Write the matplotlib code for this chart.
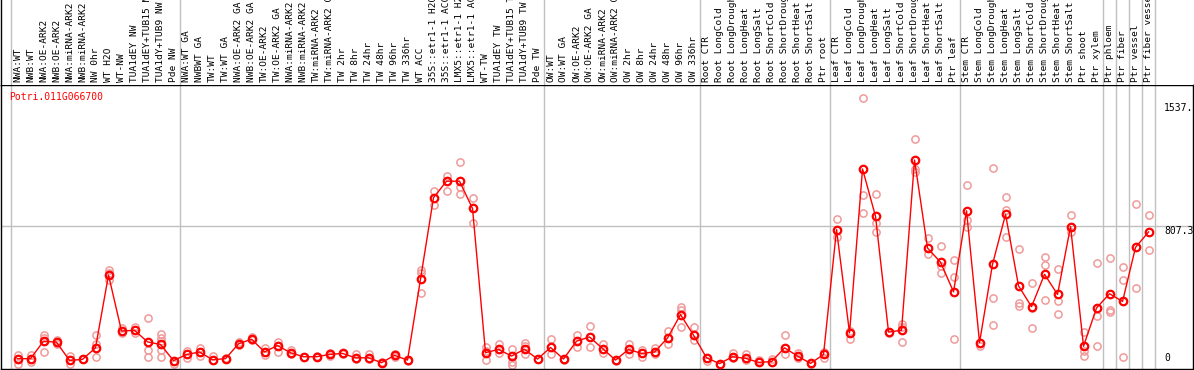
import numpy as np
from matplotlib import pyplot as plt

gene = 'Potri.011G066700'

samples = ['NWA:WT', 'NWB:WT', 'NWA:OE-ARK2', 'NWB:OE-ARK2', 'NWA:miRNA-ARK2',
           'NWB:miRNA-ARK2', 'NW 0hr', 'WT H2O', 'WT-NW', 'TUA1dEY NW',
           'TUA1dEY+TUB15 NW', 'TUA1dY+TUB9 NW', 'Pde NW',
           'NWA:WT GA', 'NWBWT GA', 'TW:WT', 'TW:WT GA', 'NWA:OE-ARK2 GA',
           'NWB:OE-ARK2 GA', 'TW:OE-ARK2', 'TW:OE-ARK2 GA', 'NWA:miRNA-ARK2 GA',
           'NWB:miRNA-ARK2 GA', 'TW:miRNA-ARK2', 'TW:miRNA-ARK2 GA', 'TW 2hr',
           'TW 8hr', 'TW 24hr', 'TW 48hr', 'TW 96hr', 'TW 336hr', 'WT ACC',
           '35S::etr1-1 H2O', '35S::etr1-1 ACC', 'LMX5::etr1-1 H2O',
           'LMX5::etr1-1 ACC', 'WT-TW', 'TUA1dEY TW', 'TUA1dEY+TUB15 TW',
           'TUA1dY+TUB9 TW', 'Pde TW',
           'OW:WT', 'OW:WT GA', 'OW:OE-ARK2', 'OW:OE-ARK2 GA', 'OW:miRNA-ARK2',
           'OW:miRNA-ARK2 GA', 'OW 2hr', 'OW 8hr', 'OW 24hr', 'OW 48hr',
           'OW 96hr', 'OW 336hr',
           'Root CTR', 'Root LongCold', 'Root LongDrought', 'Root LongHeat',
           'Root LongSalt', 'Root ShortCold', 'Root ShortDrought',
           'Root ShortHeat', 'Root ShortSalt', 'Ptr root',
           'Leaf CTR', 'Leaf LongCold', 'Leaf LongDrought', 'Leaf LongHeat',
           'Leaf LongSalt', 'Leaf ShortCold', 'Leaf ShortDrought',
           'Leaf ShortHeat', 'Leaf ShortSalt', 'Ptr leaf',
           'Stem CTR', 'Stem LongCold', 'Stem LongDrought', 'Stem LongHeat',
           'Stem LongSalt', 'Stem ShortCold', 'Stem ShortDrought',
           'Stem ShortHeat', 'Stem ShortSalt', 'Ptr shoot', 'Ptr xylem',
           'Ptr phloem', 'Ptr fiber', 'Ptr vessel', 'Ptr fiber vessel']

means = [51, 51, 151, 145, 41, 47, 113, 529, 209, 213, 147, 132, 40,
         75, 89, 45, 51, 136, 162, 90, 126, 85, 62, 62, 75, 81, 56, 56, 28,
         70, 43, 506, 971, 1065, 1065, 909, 85, 104, 66, 105, 49, 115,
         49, 151, 175, 109, 43, 104, 81, 89, 169, 303, 185, 56,
         23, 62, 53, 30, 34, 113, 66, 24, 75, 789,
         198, 1135, 864, 203, 213, 1186, 683, 602, 433, 896,
         143, 591, 875, 467, 348, 533, 418, 806, 122, 341, 422,
         378, 687, 775]

replicates = [[70, 51, 20], [70, 51, 32], [185, 170, 151, 89], [155, 145, 135],
              [65, 41, 18], [47, 50], [185, 137, 113, 62], [557, 540, 500],
              [225, 209, 200], [230, 213, 195], [284, 147, 100, 62],
              [190, 170, 150, 132, 100, 62], [40, 20],
              [95, 75, 55], [110, 89, 65], [65, 45], [55, 48], [145, 136, 130],
              [175, 162, 155], [110, 90, 70], [148, 126, 90], [100, 85, 75],
              [62, 58], [64, 60], [85, 75, 66], [81, 78], [75, 56, 50],
              [75, 56, 50], [30, 26], [80, 70, 60], [45, 40], [555, 540, 429],
              [1009, 971, 928], [1094, 1065, 1011], [1174, 1031, 992],
              [969, 909, 824], [115, 95, 45], [135, 104, 85],
              [105, 66, 30, 15], [140, 125, 105, 80], [49], [162, 115, 80],
              [49, 45], [185, 151, 120], [235, 175, 120], [135, 109, 85],
              [45, 40], [135, 104, 80], [100, 81, 60], [110, 89, 75],
              [207, 169, 135], [348, 330, 231], [230, 185, 160], [56, 35],
              [23, 20], [85, 62, 55], [75, 53, 45], [45, 30], [50, 34],
              [185, 113, 80], [85, 66, 55], [24, 20], [90, 75, 55],
              [847, 789, 744],
              [210, 198, 162], [1540, 988, 881], [994, 824, 774], [203, 200],
              [250, 230, 147], [1308, 1135, 1120], [740, 683, 651],
              [693, 580, 542], [614, 518, 164], [1041, 843, 806],
              [143, 122], [1139, 395, 241], [975, 900, 744], [679, 367, 350],
              [486, 340, 226], [632, 585, 388], [565, 382, 309],
              [870, 806, 774], [203, 122, 95, 66], [599, 294, 126],
              [627, 329, 320], [576, 501, 62], [932, 452], [870, 670]]

# first sample index of each group (vertical separators)
group_starts = [0, 13, 41, 53, 63, 73, 84, 85, 86, 87, 88]

ytick_vals = [1537.7, 807.3, 0]
ytick_text = ['1537.', '807.3', '0']

W, H = 1194, 370
fig = plt.figure(figsize=(W / 100, H / 100), dpi=100)
mono = 'DejaVu Sans Mono'
grid_c = '#c0c0c0'

x = np.arange(len(samples))
xlim = (-1.27, 90.42)

ax = fig.add_axes([1 / W, 1 / H, 1192 / W, 284 / H])
ax.set_xlim(*xlim)
ax.set_ylim(-8, 1614.6)
for s in ax.spines.values():
    s.set_color('black')
    s.set_linewidth(1)
ax.set_xticks([])
ax.set_yticks([])
ax.axhline(807.3, color=grid_c, lw=1, zorder=0)
for g in group_starts:
    ax.axvline(g - 0.5, color=grid_c, lw=1, zorder=0)

# replicate points
for i, reps in enumerate(replicates):
    ax.plot([i] * len(reps), reps, 'o', ms=5.2, mfc='none', mec='#f09a9a',
            mew=1.1, zorder=2)

ax.plot(x, means, '-', color='red', lw=1, zorder=3)
ax.plot(x, means, 'o', ms=5.4, mfc='none', mec='red', mew=1.6, zorder=4)

offsets = [-3.5, 0, 3.5]
for v, t, off in zip(ytick_vals, ytick_text, offsets):
    ax.annotate(t, xy=(88.2, v), xytext=(0, off), textcoords='offset points',
                va='top' if off <= 0 else 'bottom', ha='left',
                family=mono, fontsize=7, color='black')

# label strip
lab = fig.add_axes([1 / W, 285 / H, 1192 / W, 85 / H])
lab.set_xlim(*xlim)
lab.set_ylim(0, 85)
lab.set_xticks([])
lab.set_yticks([])
for side in ['top', 'right', 'bottom']:
    lab.spines[side].set_visible(False)
lab.spines['left'].set_linewidth(1)
for g in group_starts:
    lab.axvline(g - 0.5, color=grid_c, lw=1, zorder=0)
for i, name in enumerate(samples):
    lab.text(i, 3, name, rotation=90, ha='center', va='bottom',
             family=mono, fontsize=6.8, color='black', clip_on=False)

fig.text(9 / W, 1 - 97 / H, gene, color='red', family=mono, fontsize=7,
         ha='left', va='center')

fig.savefig('out.png', dpi=100)
